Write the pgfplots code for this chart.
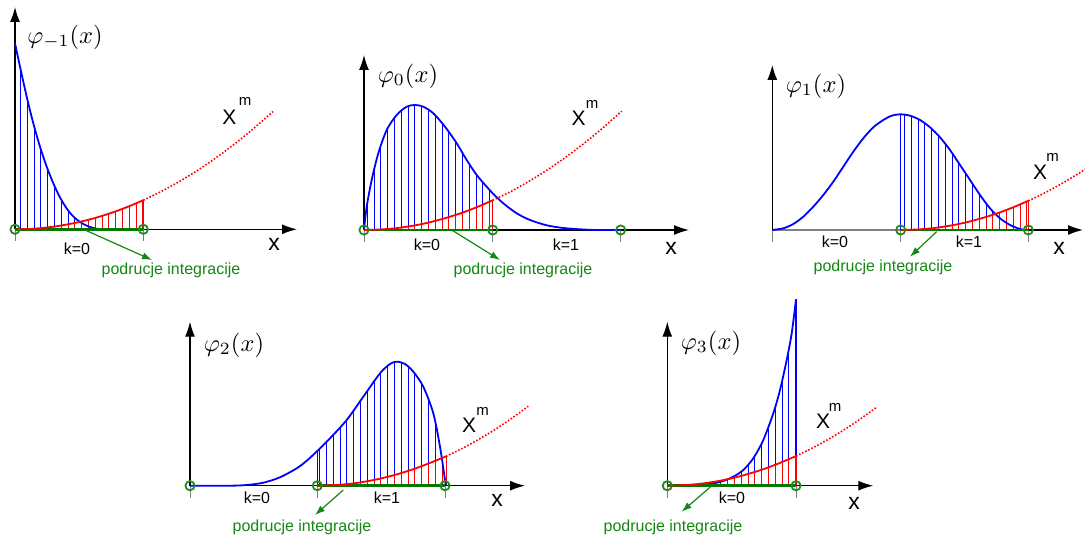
\documentclass[border=0pt]{standalone}
\usepackage{fontspec}
\setmainfont{Liberation Sans}
\usepackage{pgfplots}
\pgfplotsset{compat=1.18}
\usetikzlibrary{arrows.meta,patterns.meta}
\definecolor{dgreen}{RGB}{0,120,0}
\definecolor{tgreen}{RGB}{20,135,20}
\definecolor{cgreen}{RGB}{30,140,30}
\begin{document}
\begin{tikzpicture}
\useasboundingbox (0,0) rectangle (1085pt,537pt);
\begin{axis}[at={(0,0)}, anchor=south west, scale only axis, width=1085pt, height=537pt,
  xmin=0, xmax=1085, ymin=0, ymax=537, y dir=reverse, hide axis, clip=false,
  unbounded coords=jump,
  bh/.style={draw=none, pattern={Lines[angle=90,distance=6.8pt,line width=0.8pt]}, pattern color=blue},
  rh/.style={draw=none, pattern={Lines[angle=90,distance=6.8pt,line width=0.8pt]}, pattern color=red},
  bc/.style={blue, line width=1.8pt, smooth},
  rc/.style={red, line width=1.8pt, smooth},
  rd/.style={red, line width=1.6pt, smooth, dash pattern=on 1.6pt off 1.8pt},
  ax/.style={black, line width=1.3pt, -{Latex[length=15pt,width=10pt]}},
  tk/.style={gray, line width=1pt},
  gl/.style={dgreen, line width=2.6pt},
  ga/.style={tgreen, line width=1.2pt, -{Latex[length=10pt,width=7pt]}},
  gc/.style={only marks, mark=o, mark size=4.6pt, cgreen, mark options={line width=1.8pt}},
]
% ---------- hatching (blue) ----------
\addplot[bh] coordinates {(15,229.3)(15,43.3)(20,66.7)(26.7,96.7)(33.3,123.3)(40,146.7)(46.7,166.7)(53.3,183.3)(60,197.5)(66.7,208.5)(73.3,216.5)(80,222)(86.7,225.7)(93.3,228)(100,229.3)(106.7,230)};
\addplot[bh] coordinates {(364,230)(366.7,206.7)(371.7,180)(378.3,153.3)(386.7,130)(396.7,115)(406.7,106.7)(415,105)(423.3,106.7)(433.3,113.3)(445,126.7)(456.7,143.3)(466.7,160)(476.7,175)(486.7,186.7)(492.7,193.3)(492.7,230)};
\addplot[bh] coordinates {(900.7,230)(900.7,114.3)(910,115.7)(920,120)(930,127.3)(940,137.3)(950,150)(960,165)(970,180)(980,195)(990,208.3)(1000,218.3)(1010,225)(1020,229)(1026.7,230)};
\addplot[bh] coordinates {(317.3,485.7)(317.3,450.5)(330,438.3)(346.7,420)(363.3,396.7)(380,373.3)(390,364)(396.7,361.7)(405,364)(413.3,371.7)(423.3,386.7)(433.3,413.3)(440,446.7)(445,480)(446,485.7)};
\addplot[bh] coordinates {(667.3,485.7)(696.7,485)(713.3,483.3)(723.3,481)(733.3,476.7)(743.3,470)(753.3,458.3)(763.3,440)(773.3,413.3)(780,390)(786.7,360)(791.7,333.3)(796,299.3)(796,485.7)};
% ---------- hatching (red) ----------
\addplot[rh] coordinates {(15,229.3)(31,228.85)(47,227.5)(63,225.2)(79,222.05)(95,218)(111,213)(127,207.1)(143.3,200.2)(143.3,229.3)};
\addplot[rh] coordinates {(364,230)(380,229.5)(396,228.2)(412,225.9)(428,222.7)(444,218.5)(460,213.5)(476,207.5)(492.7,200.3)(492.7,230)};
\addplot[rh] coordinates {(900.7,230)(916.7,229.5)(932.7,228.2)(948.7,225.9)(964.7,222.7)(980.7,218.5)(996.7,213.5)(1012.7,207.5)(1028.3,200.8)(1028.3,230)};
\addplot[rh] coordinates {(317.3,485.7)(333.3,485.2)(349.3,483.9)(365.3,481.6)(381.3,478.4)(397.3,474.2)(413.3,469.2)(429.3,463.2)(446,456.4)(446,485.7)};
\addplot[rh] coordinates {(667.3,485.7)(683.3,485.2)(699.3,483.9)(715.3,481.6)(731.3,478.4)(747.3,474.2)(763.3,469.2)(779.3,463.2)(796,456.1)(796,485.7)};
% boundary hatch lines
\addplot[blue, line width=0.9pt] coordinates {(900.7,114.3)(900.7,230) (nan,nan) (317.3,450.5)(317.3,485.7) (nan,nan) (796,299.3)(796,485.7)};
\addplot[red, line width=0.9pt] coordinates {(143.3,200.2)(143.3,229.3) (nan,nan) (492.7,200.3)(492.7,230) (nan,nan) (1028.3,200.8)(1028.3,230) (nan,nan) (446,456.4)(446,485.7) (nan,nan) (796,456.1)(796,485.7)};
% ---------- axes ----------
\addplot[ax] coordinates {(15,229.3)(15,7)};
\addplot[ax] coordinates {(15,229.3)(297,229.3)};
\addplot[ax] coordinates {(364,230)(364,55)};
\addplot[ax] coordinates {(364,230)(689,230)};
\addplot[ax] coordinates {(772.3,230)(772.3,65)};
\addplot[ax] coordinates {(772.3,230)(1083,230)};
\addplot[gray, line width=1.3pt] coordinates {(773,230)(900,230)};
\addplot[ax] coordinates {(190,485.7)(190,321.7)};
\addplot[ax] coordinates {(190,485.7)(525,485.7)};
\addplot[ax] coordinates {(667.3,485.7)(667.3,321.7)};
\addplot[ax] coordinates {(667.3,485.7)(873.3,485.7)};
% ticks
\addplot[tk] coordinates {(15,229)(15,241) (nan,nan) (143.3,229)(143.3,241) (nan,nan)
  (364,230)(364,242) (nan,nan) (492.7,230)(492.7,242) (nan,nan) (620.7,230)(620.7,242) (nan,nan)
  (772.3,230)(772.3,242) (nan,nan) (900.7,230)(900.7,242) (nan,nan) (1028.3,230)(1028.3,242) (nan,nan)
  (190,485.7)(190,497.7) (nan,nan) (317.3,485.7)(317.3,497.7) (nan,nan) (445,485.7)(445,497.7) (nan,nan)
  (667.3,485.7)(667.3,497.7) (nan,nan) (796,485.7)(796,497.7)};
% ---------- blue curves ----------
\addplot[bc] coordinates {(15,43.3)(20,66.7)(26.7,96.7)(33.3,123.3)(40,146.7)(46.7,166.7)(53.3,183.3)(60,197.5)(66.7,208.5)(73.3,216.5)(80,222)(86.7,225.7)(93.3,228)(100,229.3)(106.7,230)(143,230)};
\addplot[bc] coordinates {(364,230)(366.7,206.7)(371.7,180)(378.3,153.3)(386.7,130)(396.7,115)(406.7,106.7)(415,105)(423.3,106.7)(433.3,113.3)(445,126.7)(456.7,143.3)(466.7,160)(476.7,175)(486.7,186.7)(492.7,193.3)(503.3,203.3)(516.7,213.3)(530,220)(546.7,225.3)(563.3,228)(580,229.3)(596.7,230)(620,230)};
\addplot[bc] coordinates {(772.3,230)(783.3,228.3)(793.3,224)(803.3,216.7)(813.3,206.7)(823.3,195)(833.3,181.7)(843.3,166.7)(853.3,151.7)(863.3,138.3)(873.3,127.3)(883.3,120)(891.7,115.7)(900,114.3)(910,115.7)(920,120)(930,127.3)(940,137.3)(950,150)(960,165)(970,180)(980,195)(990,208.3)(1000,218.3)(1010,225)(1020,229)(1026.7,230)};
\addplot[bc] coordinates {(190,485.7)(230,485.7)(246.7,485)(263.3,482.7)(280,477.3)(296.7,468.3)(307,460.5)(318.3,450)(330,438.3)(346.7,420)(363.3,396.7)(380,373.3)(390,364)(396.7,361.7)(405,364)(413.3,371.7)(423.3,386.7)(433.3,413.3)(440,446.7)(445,480)(446,485.7)};
\addplot[bc] coordinates {(667.3,485.7)(696.7,485)(713.3,483.3)(723.3,481)(733.3,476.7)(743.3,470)(753.3,458.3)(763.3,440)(773.3,413.3)(780,390)(786.7,360)(791.7,333.3)(796,299.3)};
% integration domain
\addplot[gl] coordinates {(15,229.3)(143.3,229.3)};
\addplot[gl] coordinates {(364,230)(492.7,230)};
\addplot[gl] coordinates {(900.7,230)(1028.3,230)};
\addplot[gl] coordinates {(317.3,485.7)(445,485.7)};
\addplot[gl] coordinates {(667.3,485.7)(796,485.7)};
% ---------- red curves x^m ----------
\addplot[rc] coordinates {(15,229.3)(31,228.85)(47,227.5)(63,225.2)(79,222.05)(95,218)(111,213)(127,207.1)(143.3,200.2)};
\addplot[rd] coordinates {(143.3,200.2)(159,192.6)(175,184)(191,174.5)(207,164.1)(223,152.7)(239,140.5)(255,127.3)(273,111.5)};
\addplot[rc] coordinates {(364,230)(380,229.5)(396,228.2)(412,225.9)(428,222.7)(444,218.5)(460,213.5)(476,207.5)(492.7,200.3)};
\addplot[rd] coordinates {(492.7,200.3)(508,192.9)(524,184.2)(540,174.6)(556,164)(572,152.6)(588,140.2)(604,126.9)(621.7,111.1)};
\addplot[rc] coordinates {(900.7,230)(916.7,229.5)(932.7,228.2)(948.7,225.9)(964.7,222.7)(980.7,218.5)(996.7,213.5)(1012.7,207.5)(1028.3,200.8)};
\addplot[rd] coordinates {(1028.3,200.8)(1044.7,192.9)(1060.7,184.2)(1076.7,174.6)(1085,169.2)};
\addplot[rc] coordinates {(317.3,485.7)(333.3,485.2)(349.3,483.9)(365.3,481.6)(381.3,478.4)(397.3,474.2)(413.3,469.2)(429.3,463.2)(446,456.4)};
\addplot[rd] coordinates {(446,456.4)(461.3,448.9)(477.3,440.2)(493.3,430.6)(509.3,420)(528.3,406.3)};
\addplot[rc] coordinates {(667.3,485.7)(683.3,485.2)(699.3,483.9)(715.3,481.6)(731.3,478.4)(747.3,474.2)(763.3,469.2)(779.3,463.2)(796,456.1)};
\addplot[rd] coordinates {(796,456.1)(811.3,448.6)(827.3,439.9)(843.3,430.3)(859.3,419.7)(876.7,407.2)};
% ---------- green markers & arrows ----------
\addplot[gc] coordinates {(15,229.3)(143.3,229.3)(364,230)(492.7,230)(620.7,230)(900.7,230)(1028.3,230)(190,485.7)(317.3,485.7)(445,485.7)(667.3,485.7)(796,485.7)};
\addplot[ga] coordinates {(85,230)(152,260)};
\addplot[ga] coordinates {(451.7,230)(500,260)};
\addplot[ga] coordinates {(936.7,231.7)(910,256.7)};
\addplot[ga] coordinates {(343.3,490)(315,515)};
\addplot[ga] coordinates {(710.7,486.7)(681.7,511.7)};
% ---------- texts ----------
\tikzset{phi/.style={inner sep=0pt, scale=2.45, font=\fontsize{10}{12}\selectfont},
  bigx/.style={inner sep=0pt, font=\fontsize{21}{24}\selectfont},
  sm/.style={inner sep=0pt, font=\fontsize{15}{18}\selectfont},
  xl/.style={inner sep=0pt, font=\fontsize{23}{26}\selectfont},
  kl/.style={inner sep=0pt, font=\fontsize{16}{18}\selectfont},
  pi/.style={inner sep=0pt, text=tgreen, font=\fontsize{16}{18}\selectfont}}
\node[phi] at (axis cs:65,37) {$\varphi_{-1}(x)$};
\node[phi] at (axis cs:408,76) {$\varphi_0(x)$};
\node[phi] at (axis cs:816,86) {$\varphi_1(x)$};
\node[phi] at (axis cs:234,345) {$\varphi_2(x)$};
\node[phi] at (axis cs:711,343) {$\varphi_3(x)$};
\node[bigx] at (axis cs:229.5,117.5) {X}; \node[sm] at (axis cs:245,101.5) {m};
\node[bigx] at (axis cs:578.5,118.5) {X}; \node[sm] at (axis cs:592,104) {m};
\node[bigx] at (axis cs:1040,172.5) {X}; \node[sm] at (axis cs:1052.5,157.5) {m};
\node[bigx] at (axis cs:469,425.5) {X}; \node[sm] at (axis cs:482.5,411) {m};
\node[bigx] at (axis cs:823,421.5) {X}; \node[sm] at (axis cs:835,407.5) {m};
\node[xl] at (axis cs:274,244) {x};
\node[xl] at (axis cs:671,248) {x};
\node[xl] at (axis cs:1059,248) {x};
\node[xl] at (axis cs:497,500) {x};
\node[xl] at (axis cs:854,503) {x};
\node[kl] at (axis cs:77,249) {k=0};
\node[kl] at (axis cs:427,245) {k=0};
\node[kl] at (axis cs:566,245) {k=1};
\node[kl] at (axis cs:835,242) {k=0};
\node[kl] at (axis cs:969,242) {k=1};
\node[kl] at (axis cs:257,498) {k=0};
\node[kl] at (axis cs:387,498) {k=1};
\node[kl] at (axis cs:732,498) {k=0};
\node[pi] at (axis cs:171,270) {podrucje integracije};
\node[pi] at (axis cs:523,270) {podrucje integracije};
\node[pi] at (axis cs:883,267) {podrucje integracije};
\node[pi] at (axis cs:302,527) {podrucje integracije};
\node[pi] at (axis cs:673,527) {podrucje integracije};
\end{axis}
\end{tikzpicture}
\end{document}
